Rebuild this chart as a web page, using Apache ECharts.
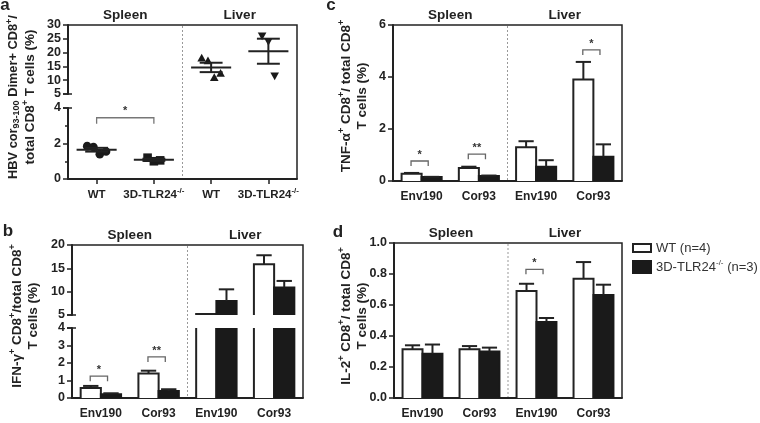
<!DOCTYPE html>
<html><head><meta charset="utf-8">
<script src="https://cdn.jsdelivr.net/npm/echarts@6/dist/echarts.min.js"></script>
<style>html,body{margin:0;padding:0;background:#fff}#c{width:760px;height:423px}</style>
</head><body><div id="c"></div>
<script>
// ---------------- data ----------------
const catsA = ['WT', '3D-TLR24{sup|-/-}', 'WT', '3D-TLR24{sup|-/-}'];
const aSpleenWT = [1.85, 1.8, 1.4, 1.55];
const aSpleenKO = [1.2, 1.0, 1.05];
const aLiverWT = [18, 17, 11, 12.5];
const aLiverKO = [26, 24, 11.5];
const aSigFrom = 0, aSigTo = 1, aSigVal = 3.45, aSigLabel = '*';

const barCats = ['Env190', 'Cor93', 'Env190', 'Cor93'];

const bWT = [0.57, 1.4, 5.2, 15.9];
const bWTerr = [0.12, 0.16, 0, 1.9];
const bKO = [0.22, 0.4, 8.0, 10.9];
const bKOerr = [0.05, 0.1, 2.5, 1.4];
const bSigCats = [0, 1], bSigVals = [1.25, 2.35], bSigLabels = ['*', '**'];

const cWT = [0.28, 0.5, 1.3, 3.9];
const cWTerr = [0.03, 0.05, 0.23, 0.68];
const cKO = [0.15, 0.19, 0.55, 0.93];
const cKOerr = [0.01, 0.02, 0.25, 0.48];
const cSigCats = [0, 1, 3], cSigVals = [0.77, 1.03, 5.04], cSigLabels = ['*', '**', '*'];

const dWT = [0.315, 0.315, 0.69, 0.77];
const dWTerr = [0.025, 0.02, 0.047, 0.107];
const dKO = [0.285, 0.30, 0.49, 0.665];
const dKOerr = [0.06, 0.025, 0.026, 0.066];
const dSigCats = [2], dSigVals = [0.83], dSigLabels = ['*'];

const legendNames = ['WT (n=4)', '3D-TLR24{sup|-/-} (n=3)'];

// ---------------- layout ----------------
const FONT = 'Liberation Sans, Arial, Helvetica, sans-serif';
const INK = '#222';
const P = {
  a: {L: 68, R: 297, T: 25, B: 179, s0: 94, s1: 108},
  b: {L: 72, R: 303, T: 245, B: 398, s0: 315, s1: 328},
  c: {L: 393, R: 622, T: 25, B: 181},
  d: {L: 394, R: 622, T: 243, B: 398}
};
const grids = [
  {left: P.a.L, top: P.a.T, width: P.a.R - P.a.L, height: P.a.s0 - P.a.T},
  {left: P.a.L, top: P.a.s1, width: P.a.R - P.a.L, height: P.a.B - P.a.s1},
  {left: P.b.L, top: P.b.T, width: P.b.R - P.b.L, height: P.b.s0 - P.b.T},
  {left: P.b.L, top: P.b.s1, width: P.b.R - P.b.L, height: P.b.B - P.b.s1},
  {left: P.c.L, top: P.c.T, width: P.c.R - P.c.L, height: P.c.B - P.c.T},
  {left: P.d.L, top: P.d.T, width: P.d.R - P.d.L, height: P.d.B - P.d.T}
].map(g => Object.assign({outerBoundsMode: 'none', containLabel: false}, g));

const lab = {color: INK, fontWeight: 'bold', fontSize: 12.5, fontFamily: FONT};
const supRich = {sup: {fontSize: 8, fontWeight: 'bold', fontFamily: FONT, color: INK, verticalAlign: 'top', lineHeight: 7}};

function yAx(grid, min, max, interval, extra) {
  return Object.assign({
    gridIndex: grid, type: 'value', min, max, interval,
    axisLine: {show: true, lineStyle: {color: INK, width: 2}},
    axisTick: {show: true, length: 5, lineStyle: {color: INK, width: 1.5}},
    axisLabel: Object.assign({margin: 7}, lab),
    splitLine: {show: false}
  }, extra || {});
}
function xAx(grid, cats, show, ticks, fs) {
  return {
    gridIndex: grid, type: 'category', data: cats, show,
    axisLine: {show: true, onZero: false, lineStyle: {color: INK, width: 2}},
    axisTick: {show: ticks, alignWithLabel: true, interval: 0, length: 5, lineStyle: {color: INK, width: 1.5}},
    axisLabel: Object.assign({}, lab, {margin: 8, lineHeight: 16, interval: 0, hideOverlap: false, fontSize: fs || 12, rich: supRich}),
    splitLine: {show: false}
  };
}

const mean = a => a.reduce((s, v) => s + v, 0) / a.length;
const sem = a => { const m = mean(a); return Math.sqrt(a.reduce((s, v) => s + (v - m) * (v - m), 0) / (a.length - 1)) / Math.sqrt(a.length); };

function dotsSeries(grid, cat, vals, shape) {
  return {
    type: 'custom', xAxisIndex: grid, yAxisIndex: grid,
    data: vals.map(v => [cat, v]),
    renderItem: (params, api) => {
      const i = params.dataIndex, n = vals.length;
      const p = api.coord([api.value(0), api.value(1)]);
      const band = api.size([1, 0])[0];
      const x = p[0] + (i - (n - 1) / 2) * band * 0.11, y = p[1], r = 4.3;
      const style = {fill: '#1a1a1a'};
      if (shape === 'circle') return {type: 'circle', shape: {cx: x, cy: y, r: r}, style};
      if (shape === 'square') return {type: 'rect', shape: {x: x - r, y: y - r, width: 2 * r, height: 2 * r}, style};
      if (shape === 'up') return {type: 'polygon', shape: {points: [[x, y - r], [x + r, y + r * 0.8], [x - r, y + r * 0.8]]}, style};
      return {type: 'polygon', shape: {points: [[x, y + r], [x + r, y - r * 0.8], [x - r, y - r * 0.8]]}, style};
    }
  };
}
function meanSemSeries(grid, groups) {
  return {
    type: 'custom', xAxisIndex: grid, yAxisIndex: grid,
    data: groups.map(g => [g[0], mean(g[1]), sem(g[1])]),
    renderItem: (params, api) => {
      const cat = api.value(0), m = api.value(1), s = api.value(2);
      const band = api.size([1, 0])[0];
      const pm = api.coord([cat, m]), ph = api.coord([cat, m + s]), pl = api.coord([cat, m - s]);
      const x = pm[0], wm = band * 0.35, ws = band * 0.2;
      const st = {stroke: INK, lineWidth: 2};
      return {type: 'group', children: [
        {type: 'line', shape: {x1: x - wm, y1: pm[1], x2: x + wm, y2: pm[1]}, style: st},
        {type: 'line', shape: {x1: x - ws, y1: ph[1], x2: x + ws, y2: ph[1]}, style: st},
        {type: 'line', shape: {x1: x - ws, y1: pl[1], x2: x + ws, y2: pl[1]}, style: st},
        {type: 'line', shape: {x1: x, y1: ph[1], x2: x, y2: pl[1]}, style: st}
      ]};
    }
  };
}
function barSeries(grid, vals, errs, side, fill, stroke, yMin, yMax) {
  return {
    type: 'custom', xAxisIndex: grid, yAxisIndex: grid,
    data: vals.map((v, i) => [i, v, errs[i]]),
    renderItem: (params, api) => {
      const cat = api.value(0), v = api.value(1), e = api.value(2);
      if (v <= yMin) return null;
      const band = api.size([1, 0])[0], bw = band * 0.35;
      const c = api.coord([cat, yMin])[0];
      const x0 = side < 0 ? c - bw : c, x1 = x0 + bw;
      const yTop = api.coord([cat, Math.min(v, yMax)])[1];
      const yBot = api.coord([cat, yMin])[1];
      const ch = [{type: 'rect', shape: {x: x0, y: yTop, width: bw, height: yBot - yTop}, style: {fill: fill, lineWidth: 0}}];
      const st = {stroke: stroke, lineWidth: 2, fill: null};
      if (v > yMax) {
        ch.push({type: 'line', shape: {x1: x0, y1: yTop, x2: x0, y2: yBot}, style: st});
        ch.push({type: 'line', shape: {x1: x1, y1: yTop, x2: x1, y2: yBot}, style: st});
      } else {
        ch.push({type: 'polyline', shape: {points: [[x0, yBot], [x0, yTop], [x1, yTop], [x1, yBot]]}, style: st});
        if (e > 0 && v + e <= yMax) {
          const xm = (x0 + x1) / 2, ye = api.coord([cat, v + e])[1], cap = bw * 0.38;
          const es = {stroke: INK, lineWidth: 2};
          ch.push({type: 'line', shape: {x1: xm, y1: yTop, x2: xm, y2: ye}, style: es});
          ch.push({type: 'line', shape: {x1: xm - cap, y1: ye, x2: xm + cap, y2: ye}, style: es});
        }
      }
      return {type: 'group', children: ch};
    }
  };
}
function sigSeries(grid, cats, vals, labels) {
  return {
    type: 'custom', xAxisIndex: grid, yAxisIndex: grid,
    data: cats.map((c, i) => [c, vals[i]]),
    renderItem: (params, api) => {
      const p = api.coord([api.value(0), api.value(1)]);
      const band = api.size([1, 0])[0], h = band * 0.15;
      const x = p[0] - 2, y = p[1];
      return {type: 'group', children: [
        {type: 'polyline', shape: {points: [[x - h, y + 5], [x - h, y], [x + h, y], [x + h, y + 5]]}, style: {stroke: '#666', lineWidth: 1.3, fill: null}},
        {type: 'text', style: {text: labels[params.dataIndex], x: x, y: y - 6, align: 'center', verticalAlign: 'middle', fontSize: 11, fontWeight: 'bold', fontFamily: FONT, fill: '#333'}}
      ]};
    }
  };
}
function sigSpan(grid) {
  return {
    type: 'custom', xAxisIndex: grid, yAxisIndex: grid,
    data: [[aSigFrom, aSigVal, aSigTo]],
    renderItem: (params, api) => {
      const p0 = api.coord([api.value(0), api.value(1)]);
      const p1 = api.coord([api.value(2), api.value(1)]);
      const y = p0[1];
      return {type: 'group', children: [
        {type: 'polyline', shape: {points: [[p0[0], y + 6], [p0[0], y], [p1[0], y], [p1[0], y + 6]]}, style: {stroke: '#777', lineWidth: 1.3, fill: null}},
        {type: 'text', style: {text: aSigLabel, x: (p0[0] + p1[0]) / 2, y: y - 7, align: 'center', verticalAlign: 'middle', fontSize: 11, fontWeight: 'bold', fontFamily: FONT, fill: '#333'}}
      ]};
    }
  };
}

// ---------------- graphics (frames, titles, labels, legend) ----------------
const gfx = [];
function txt(text, x, y, size, weight, rot, supSize) {
  const ss = supSize || 8;
  gfx.push({
    type: 'text', x: x, y: y, rotation: rot || 0,
    style: {
      text: text, x: 0, y: 0, align: 'center', verticalAlign: 'middle',
      fontSize: size, fontWeight: weight, fontFamily: FONT, fill: INK, lineHeight: size + 4,
      rich: {
        sup: {fontSize: ss, fontWeight: weight, fontFamily: FONT, fill: INK, verticalAlign: 'top', lineHeight: ss - 1},
        sub: {fontSize: ss, fontWeight: weight, fontFamily: FONT, fill: INK, verticalAlign: 'bottom', lineHeight: ss}
      }
    }
  });
  return gfx[gfx.length - 1];
}
Object.keys(P).forEach(k => {
  const p = P[k], mid = (p.L + p.R) / 2;
  gfx.push({type: 'polyline', shape: {points: [[p.L, p.T], [p.R, p.T], [p.R, p.B]]}, style: {stroke: INK, lineWidth: 1.5, fill: null}});
  gfx.push({type: 'line', shape: {x1: mid, y1: p.T + 1, x2: mid, y2: p.B - 1}, style: {stroke: '#999', lineWidth: 1, lineDash: [2, 2]}});
  txt('Spleen', (p.L + mid) / 2, p.T - 10, 13.5, 'bold');
  txt('Liver', (mid + p.R) / 2, p.T - 10, 13.5, 'bold');
  if (p.s0) {
    gfx.push({type: 'line', shape: {x1: p.L - 5, y1: p.s0, x2: p.L + 4, y2: p.s0}, style: {stroke: INK, lineWidth: 1.5}});
    gfx.push({type: 'line', shape: {x1: p.L - 5, y1: p.s1, x2: p.L + 4, y2: p.s1}, style: {stroke: INK, lineWidth: 1.5}});
  }
});
const R90 = Math.PI / 2, YT = 13.5, YS = 9;
txt('HBV cor{sub|93-100} Dimer+ CD8{sup|+}/', 13, 97, 12.8, 'bold', R90, YS);
txt('total CD8{sup|+} T cells (%)', 30, 97, YT, 'bold', R90, YS);
txt('IFN-γ{sup|+} CD8{sup|+}/total CD8{sup|+}', 17, 316, YT, 'bold', R90, YS);
txt('T cells (%)', 33, 316, YT, 'bold', R90, YS);
txt('TNF-α{sup|+} CD8{sup|+}/ total CD8{sup|+}', 346, 96, YT, 'bold', R90, YS);
txt('T cells (%)', 362, 96, YT, 'bold', R90, YS);
txt('IL-2{sup|+} CD8{sup|+}/ total CD8{sup|+}', 346, 316, YT, 'bold', R90, YS);
txt('T cells (%)', 362, 316, YT, 'bold', R90, YS);
txt('a', 5, 5, 17, 'bold');
txt('c', 331, 5, 17, 'bold');
txt('b', 8, 231, 17, 'bold');
txt('d', 338, 232, 17, 'bold');
// legend
gfx.push({type: 'rect', shape: {x: 633, y: 244, width: 18, height: 8}, style: {fill: '#fff', stroke: INK, lineWidth: 2}});
gfx.push({type: 'rect', shape: {x: 632, y: 260, width: 20, height: 14}, style: {fill: '#1a1a1a', lineWidth: 0}});
const lg1 = txt(legendNames[0], 656, 248, 13, 'normal');
const lg2 = txt(legendNames[1], 656, 267, 13, 'normal');
[lg1, lg2].forEach(t => { t.style.align = 'left'; t.style.fill = '#333'; t.style.rich.sup.fill = '#333'; });

// ---------------- option ----------------
const option = {
  animation: false,
  backgroundColor: '#fff',
  grid: grids,
  xAxis: [
    xAx(0, catsA, false, false),
    xAx(1, catsA, true, true, 11.5),
    xAx(2, barCats, false, false),
    xAx(3, barCats, true, false),
    xAx(4, barCats, true, false),
    xAx(5, barCats, true, false)
  ],
  yAxis: [
    yAx(0, 5, 30, 5),
    yAx(1, 0, 4, 2, {minorTick: {show: true, splitNumber: 2, length: 3, lineStyle: {color: INK, width: 1.5}}}),
    yAx(2, 5, 20, 5),
    yAx(3, 0, 4, 1),
    yAx(4, 0, 6, 2),
    yAx(5, 0, 1, 0.2, {axisLabel: Object.assign({margin: 7, formatter: v => v.toFixed(1)}, lab)})
  ],
  series: [
    dotsSeries(1, 0, aSpleenWT, 'circle'),
    dotsSeries(1, 1, aSpleenKO, 'square'),
    meanSemSeries(1, [[0, aSpleenWT], [1, aSpleenKO]]),
    sigSpan(1),
    dotsSeries(0, 2, aLiverWT, 'up'),
    dotsSeries(0, 3, aLiverKO, 'down'),
    meanSemSeries(0, [[2, aLiverWT], [3, aLiverKO]]),

    barSeries(2, bWT, bWTerr, -1, '#fff', INK, 5, 20),
    barSeries(2, bKO, bKOerr, 1, '#1a1a1a', '#1a1a1a', 5, 20),
    barSeries(3, bWT, bWTerr, -1, '#fff', INK, 0, 4),
    barSeries(3, bKO, bKOerr, 1, '#1a1a1a', '#1a1a1a', 0, 4),
    sigSeries(3, bSigCats, bSigVals, bSigLabels),

    barSeries(4, cWT, cWTerr, -1, '#fff', INK, 0, 6),
    barSeries(4, cKO, cKOerr, 1, '#1a1a1a', '#1a1a1a', 0, 6),
    sigSeries(4, cSigCats, cSigVals, cSigLabels),

    barSeries(5, dWT, dWTerr, -1, '#fff', INK, 0, 1),
    barSeries(5, dKO, dKOerr, 1, '#1a1a1a', '#1a1a1a', 0, 1),
    sigSeries(5, dSigCats, dSigVals, dSigLabels)
  ],
  graphic: gfx
};
const chart = echarts.init(document.getElementById('c'), null, {renderer: 'canvas'});
chart.setOption(option);
</script></body></html>
